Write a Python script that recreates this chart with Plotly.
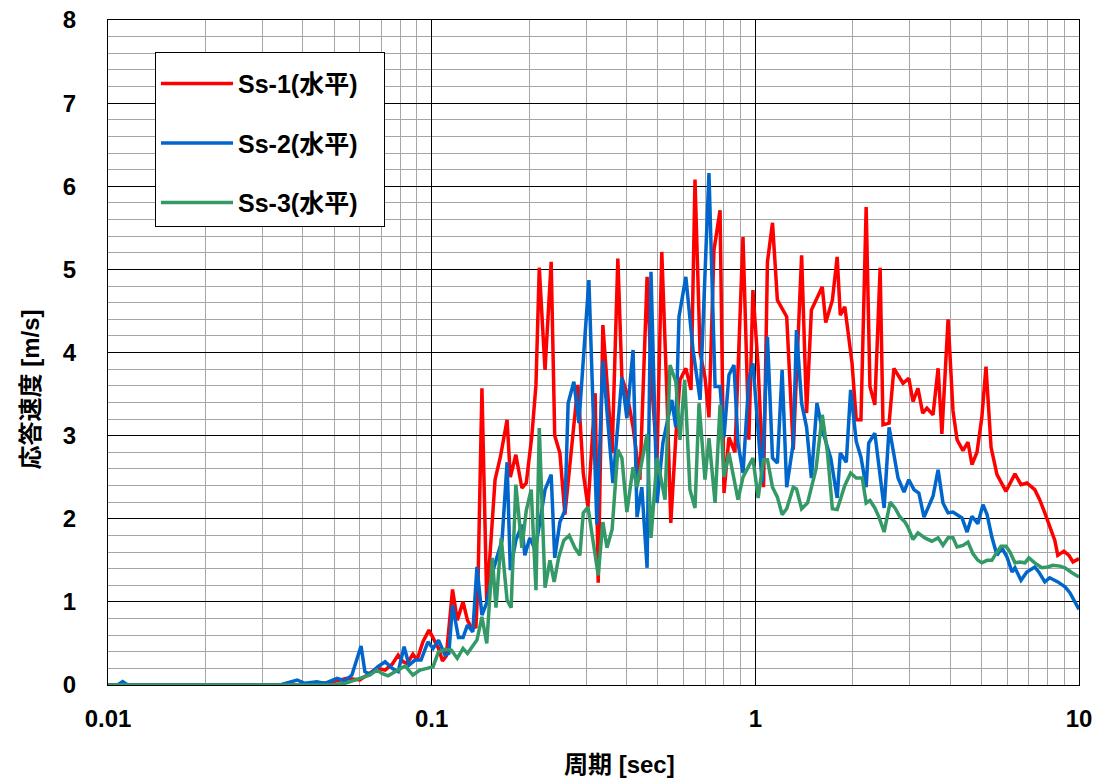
import plotly.graph_objects as go

# ---- data (period [sec], response velocity [m/s]) ----
ss1_period = [0.01, 0.0192, 0.0392, 0.0485, 0.0548, 0.060, 0.0645, 0.0677, 0.0718, 0.0755, 0.0788, 0.0816,
              0.084, 0.0875, 0.0901, 0.094, 0.0981, 0.102, 0.105, 0.108, 0.111, 0.116, 0.120, 0.125, 0.129,
              0.133, 0.137, 0.139, 0.143, 0.148, 0.157, 0.163, 0.171, 0.175, 0.182, 0.190, 0.196, 0.204,
              0.210, 0.215, 0.224, 0.234, 0.240, 0.249, 0.258, 0.283, 0.294, 0.304, 0.320, 0.327, 0.338,
              0.361, 0.376, 0.387, 0.401, 0.419, 0.440, 0.463, 0.479, 0.497, 0.514, 0.533, 0.548, 0.568,
              0.585, 0.610, 0.633, 0.651, 0.675, 0.699, 0.719, 0.745, 0.778, 0.800, 0.829, 0.865, 0.916,
              0.955, 0.983, 1.02, 1.06, 1.09, 1.13, 1.17, 1.25, 1.31, 1.39, 1.44, 1.49, 1.61, 1.65, 1.73,
              1.79, 1.83, 1.89, 1.99, 2.05, 2.12, 2.20, 2.26, 2.34, 2.43, 2.48, 2.59, 2.68, 2.86, 2.98,
              3.07, 3.18, 3.29, 3.39, 3.54, 3.67, 3.77, 3.94, 4.08, 4.20, 4.38, 4.54, 4.67, 4.84, 5.01,
              5.16, 5.35, 5.58, 5.95, 6.34, 6.62, 6.90, 7.30, 7.56, 7.84, 8.12, 8.42, 8.60, 8.98, 9.31,
              9.58, 10.0]
ss1_value = [0, 0, 0, 0.03, 0.08, 0.06, 0.15, 0.20, 0.18, 0.25, 0.36, 0.28,
             0.26, 0.37, 0.30, 0.52, 0.66, 0.54, 0.44, 0.29, 0.35, 1.15, 0.78, 1.00, 0.78,
             0.68, 0.70, 1.20, 3.57, 0.99, 2.47, 2.74, 3.19, 2.50, 2.77, 2.37, 2.43, 3.00,
             3.61, 5.02, 3.79, 5.09, 3.00, 2.79, 2.05, 3.61, 2.55, 2.14, 3.51, 1.23, 4.33,
             2.79, 5.13, 3.70, 3.51, 3.10, 2.47, 4.91, 3.59, 2.71, 5.21, 3.51, 1.95, 2.98,
             3.67, 3.81, 3.55, 6.08, 4.00, 3.70, 3.22, 5.23, 5.71, 2.31, 2.98, 2.80, 5.39,
             2.95, 4.75, 3.83, 2.38, 5.09, 5.56, 4.63, 4.43, 2.83, 5.17, 3.27, 4.51, 4.79, 4.36, 4.63,
             5.15, 4.45, 4.55, 3.87, 3.19, 3.19, 5.75, 3.59, 3.37, 5.02, 3.13, 3.15, 3.81, 3.63, 3.69,
             3.41, 3.57, 3.27, 3.33, 3.25, 3.81, 3.02, 4.40, 3.30, 2.95, 2.82, 2.92, 2.65, 2.80, 3.22,
             3.83, 2.86, 2.53, 2.33, 2.54, 2.41, 2.43, 2.35, 2.23, 2.07, 1.90, 1.74, 1.56, 1.61, 1.56,
             1.48, 1.52]

ss2_period = [0.01, 0.0107, 0.0111, 0.0115, 0.034, 0.0384, 0.0406, 0.0442, 0.0468, 0.051, 0.054, 0.0567,
              0.0605, 0.0622, 0.0645, 0.0682, 0.0718, 0.0755, 0.0788, 0.0822, 0.0851, 0.0888, 0.0927,
              0.0974, 0.101, 0.105, 0.110, 0.113, 0.116, 0.121, 0.125, 0.129, 0.134, 0.138, 0.143, 0.148,
              0.154, 0.165, 0.171, 0.175, 0.182, 0.190, 0.194, 0.201, 0.209, 0.224, 0.234, 0.240, 0.249,
              0.258, 0.264, 0.275, 0.285, 0.306, 0.324, 0.338, 0.363, 0.387, 0.401, 0.419, 0.431, 0.446,
              0.463, 0.476, 0.497, 0.518, 0.552, 0.568, 0.581, 0.610, 0.642, 0.675, 0.719, 0.751, 0.778,
              0.800, 0.829, 0.859, 0.884, 0.916, 0.955, 0.983, 1.05, 1.09, 1.13, 1.17, 1.21, 1.25, 1.31,
              1.34, 1.39, 1.44, 1.49, 1.55, 1.61, 1.71, 1.79, 1.83, 1.91, 1.97, 2.05, 2.12, 2.20, 2.24,
              2.34, 2.50, 2.59, 2.66, 2.76, 2.88, 2.98, 3.09, 3.20, 3.32, 3.54, 3.67, 3.80, 3.94, 4.08,
              4.35, 4.51, 4.67, 4.87, 5.05, 5.20, 5.38, 5.58, 5.78, 5.99, 6.21, 6.34, 6.62, 6.90, 7.30,
              7.51, 7.84, 8.12, 8.60, 9.05, 9.37, 9.71, 10.0]
ss2_value = [0, 0, 0.04, 0, 0, 0.06, 0.02, 0.04, 0.02, 0.08, 0.05, 0.12,
             0.47, 0.16, 0.13, 0.22, 0.28, 0.20, 0.16, 0.46, 0.24, 0.30, 0.30,
             0.52, 0.44, 0.54, 0.36, 0.38, 0.96, 0.57, 0.57, 0.72, 0.64, 1.42, 0.84, 0.99,
             1.35, 1.74, 2.68, 1.38, 1.74, 1.93, 1.56, 1.77, 1.62, 2.35, 2.53, 1.53, 1.96,
             2.10, 3.39, 3.65, 3.15, 4.87, 1.93, 3.90, 2.43, 3.70, 3.21, 4.03, 2.02, 2.38,
             1.41, 4.97, 2.19, 2.91, 3.43, 3.10, 4.43, 4.91, 4.03, 3.43, 6.16, 3.59, 3.59,
             2.98, 3.73, 3.85, 2.91, 2.55, 3.67, 3.87, 2.43, 4.19, 2.73, 2.67, 3.79, 2.38, 2.91,
             4.27, 3.39, 3.10, 2.49, 3.39, 3.07, 2.73, 2.25, 2.79, 2.68, 3.55, 2.93, 2.74, 2.38, 2.91,
             3.03, 2.13, 3.10, 2.83, 2.49, 2.32, 2.47, 2.35, 2.31, 2.02, 2.27, 2.59, 2.19, 2.07, 2.08,
             2.01, 1.84, 2.03, 1.94, 2.17, 2.05, 1.78, 1.56, 1.65, 1.54, 1.36, 1.41, 1.26, 1.36, 1.42,
             1.36, 1.24, 1.29, 1.24, 1.18, 1.11, 1.00, 0.91]

ss3_period = [0.01, 0.0392, 0.0485, 0.054, 0.060, 0.0645, 0.0677, 0.0702, 0.0733, 0.0782, 0.0828, 0.0875,
              0.092, 0.0967, 0.101, 0.105, 0.110, 0.115, 0.120, 0.125, 0.129, 0.138, 0.143, 0.148, 0.154,
              0.158, 0.164, 0.171, 0.176, 0.182, 0.190, 0.196, 0.203, 0.210, 0.215, 0.224, 0.232, 0.239,
              0.247, 0.256, 0.266, 0.277, 0.287, 0.294, 0.304, 0.315, 0.327, 0.338, 0.348, 0.361, 0.376,
              0.387, 0.401, 0.419, 0.431, 0.463, 0.476, 0.497, 0.526, 0.545, 0.568, 0.585, 0.605, 0.628,
              0.651, 0.670, 0.699, 0.719, 0.751, 0.778, 0.800, 0.829, 0.884, 0.916, 0.955, 0.983, 1.02,
              1.06, 1.09, 1.13, 1.17, 1.21, 1.25, 1.31, 1.34, 1.39, 1.45, 1.54, 1.61, 1.67, 1.73, 1.79,
              1.89, 1.97, 2.05, 2.14, 2.20, 2.26, 2.34, 2.41, 2.50, 2.61, 2.70, 2.80, 2.90, 2.96, 3.07,
              3.18, 3.34, 3.51, 3.67, 3.80, 3.94, 4.08, 4.20, 4.38, 4.54, 4.70, 4.87, 5.01, 5.20, 5.38,
              5.54, 5.74, 5.95, 6.12, 6.34, 6.57, 6.81, 7.00, 7.30, 7.67, 8.01, 8.30, 8.73, 9.05, 9.51,
              10.0]
ss3_value = [0, 0, 0, 0.02, 0.08, 0.12, 0.18, 0.14, 0.11, 0.18, 0.23, 0.12,
             0.18, 0.20, 0.22, 0.40, 0.43, 0.42, 0.32, 0.44, 0.38, 0.54, 0.82, 0.50, 1.53,
             0.93, 1.77, 1.02, 0.93, 2.41, 1.65, 2.10, 2.35, 1.14, 3.09, 1.17, 1.50, 1.24,
             1.54, 1.74, 1.80, 1.65, 1.56, 2.07, 2.14, 1.74, 1.32, 1.96, 1.65, 1.87, 2.83,
             2.73, 2.08, 2.62, 2.38, 3.02, 1.77, 2.73, 2.23, 3.85, 3.65, 2.95, 3.67, 2.35,
             2.13, 3.39, 2.47, 2.97, 2.19, 3.37, 2.50, 2.79, 2.23, 2.50, 2.65, 2.73, 2.25,
             2.71, 2.71, 2.38, 2.26, 2.05, 2.12, 2.38, 2.36, 2.12, 2.19, 2.60, 3.25, 2.80, 2.12, 2.11,
             2.40, 2.55, 2.49, 2.49, 2.19, 2.22, 2.13, 2.02, 1.84, 2.20, 2.13, 2.02, 1.96, 1.90, 1.75,
             1.83, 1.77, 1.73, 1.77, 1.68, 1.77, 1.77, 1.66, 1.68, 1.72, 1.58, 1.50, 1.47, 1.50, 1.50,
             1.58, 1.67, 1.67, 1.60, 1.47, 1.48, 1.47, 1.53, 1.47, 1.41, 1.42, 1.44, 1.43, 1.41, 1.35,
             1.30]

series_names = ["Ss-1(水平)", "Ss-2(水平)", "Ss-3(水平)"]
series_colors = ["#FF0000", "#0066CC", "#339966"]
x_ticks = [0.01, 0.1, 1, 10]
x_tick_labels = ["0.01", "0.1", "1", "10"]
x_title = "周期 [sec]"
y_title = "応答速度 [m/s]"

FONT = "Arial, 'Liberation Sans', 'Noto Sans CJK JP', sans-serif"

fig = go.Figure()
for name, color, px, vy in zip(series_names, series_colors,
                               [ss1_period, ss2_period, ss3_period],
                               [ss1_value, ss2_value, ss3_value]):
    fig.add_trace(go.Scatter(x=px, y=vy, mode="lines", name=name + "\u00a0\u00a0\u00a0",
                             legendgroup=name, line=dict(color=color, width=3.5)))

# page body has an 8px default margin, so the figure is 8px smaller each way
fig.update_layout(
    width=1092, height=770,
    margin=dict(l=100, r=21, t=12, b=93, autoexpand=False),
    paper_bgcolor="white", plot_bgcolor="white",
    font=dict(family=FONT, color="black", size=24),
    showlegend=True,
    legend=dict(x=0.0484, y=0.952, xanchor="left", yanchor="top",
                bgcolor="white", bordercolor="black", borderwidth=1,
                font=dict(family=FONT, size=25, color="black", weight="bold"),
                title=dict(text=" ", font=dict(size=6)),
                tracegroupgap=24, itemwidth=72),
)
fig.update_xaxes(
    type="log", range=[-2, 1], tickvals=x_ticks, ticktext=x_tick_labels,
    showgrid=True, gridcolor="black", gridwidth=1, automargin=False,
    minor=dict(dtick="D1", showgrid=True, gridcolor="#a6a6a6", gridwidth=1, ticks=""),
    showline=True, linecolor="black", linewidth=1, mirror=True,
    ticks="", ticklabelstandoff=12, zeroline=False, ticklabeloverflow="allow",
    tickfont=dict(family=FONT, size=24, color="black", weight="bold"),
)
fig.update_yaxes(
    range=[0, 8], dtick=1,
    showgrid=True, gridcolor="black", gridwidth=1, automargin=False,
    minor=dict(dtick=0.2, showgrid=True, gridcolor="#a6a6a6", gridwidth=1, ticks=""),
    showline=True, linecolor="black", linewidth=1, mirror=True,
    ticks="", ticklabelstandoff=26, zeroline=False, ticklabeloverflow="allow",
    tickfont=dict(family=FONT, size=24, color="black", weight="bold"),
)
fig.add_annotation(text=x_title, xref="paper", yref="paper", x=0.527, y=-0.120,
                   xanchor="center", yanchor="middle", showarrow=False,
                   font=dict(family=FONT, size=24, color="black", weight="bold"))
fig.add_annotation(text=y_title, xref="paper", yref="paper", x=-0.080, y=0.445,
                   xanchor="center", yanchor="middle", showarrow=False, textangle=-90,
                   font=dict(family=FONT, size=24, color="black", weight="bold"))

fig.write_html("out.html")
